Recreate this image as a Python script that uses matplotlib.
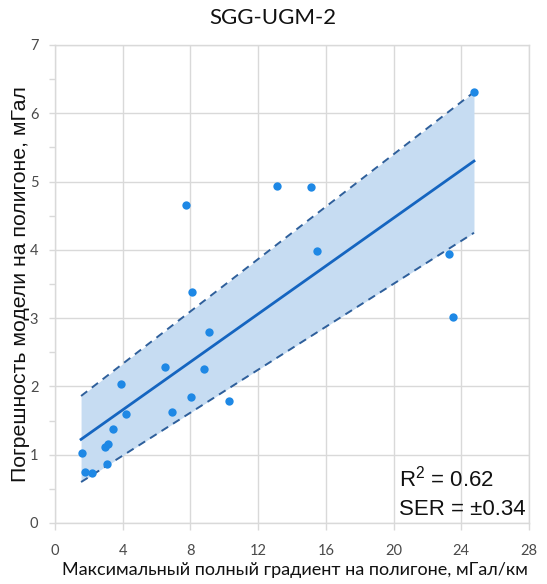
import matplotlib
matplotlib.use("Agg")
import matplotlib.pyplot as plt
import numpy as np

# Data
grad_x = [1.58, 1.77, 2.17, 3.05, 2.96, 3.15, 3.45, 3.88, 4.20, 6.50, 6.90,
          8.12, 8.06, 8.79, 9.12, 10.28, 7.74, 13.12, 15.13, 15.47, 24.75,
          23.30, 23.54]
err_y = [1.02, 0.74, 0.73, 0.86, 1.11, 1.16, 1.38, 2.04, 1.60, 2.28, 1.63,
         3.38, 1.85, 2.25, 2.79, 1.79, 4.66, 4.93, 4.92, 3.98, 6.31,
         3.94, 3.01]

fit_x = [1.54, 24.75]
fit_y = [1.225, 5.30]
band_upper = [1.86, 6.31]
band_lower = [0.60, 4.25]

x_ticks = [0, 4, 8, 12, 16, 20, 24, 28]
y_ticks = [0, 1, 2, 3, 4, 5, 6, 7]

title = "SGG-UGM-2"
x_label = "Максимальный полный градиент на полигоне, мГал/км"
y_label = "Погрешность модели на полигоне, мГал"
stats_lines = ["R$^2$ = 0.62", "SER = ±0.34"]

font = ["Lato", "DejaVu Sans"]
arial = ["Liberation Sans", "DejaVu Sans"]
plt.rcParams["mathtext.fontset"] = "custom"
plt.rcParams["mathtext.rm"] = "Liberation Sans"

fig = plt.figure(figsize=(5.47, 5.84), dpi=100)
ax = fig.add_axes([55/547, 1-523/584, 474/547, 478/584])

ax.fill_between(fit_x, band_lower, band_upper, color="#c6dcf2", lw=0, zorder=1)
ax.plot(fit_x, band_upper, ls=(0, (4, 3)), color="#2e5f9b", lw=1.4, zorder=2)
ax.plot(fit_x, band_lower, ls=(0, (4, 3)), color="#2e5f9b", lw=1.4, zorder=2)
ax.plot(fit_x, fit_y, color="#1565c0", lw=2.0, zorder=3)
ax.scatter(grad_x, err_y, s=36, color="#1e88e5", zorder=4, linewidths=0)

ax.set_xlim(0, 28)
ax.set_ylim(0, 7)
ax.set_xticks(x_ticks)
ax.set_yticks(y_ticks)
ax.set_yticks(np.arange(0.5, 7, 1.0), minor=True)
ax.grid(True, which="major", color="#d9d9d9", lw=1.0, zorder=0)
ax.set_axisbelow(True)
for s in ax.spines.values():
    s.set_color("#d9d9d9")
    s.set_linewidth(1.0)
ax.tick_params(which="both", color="#d9d9d9", length=4, width=1.0,
               labelsize=10.5, labelcolor="#4a4a4a")
ax.tick_params(axis="y", pad=8)
ax.tick_params(axis="x", length=5, pad=10)
for lab in ax.get_xticklabels() + ax.get_yticklabels():
    lab.set_family(font)

fig.text(295/547, 1 - 570/584, x_label, ha="center", va="center",
         fontsize=13, family=font, color="#111111")
fig.text(21/547, 1 - 284/584, y_label, ha="center", va="center", rotation=90,
         fontsize=15.3, family=arial, color="#111111")
fig.text(272.5/547, 1 - 18/584, title, ha="center", va="center",
         fontsize=16, family=font, color="#111111")
for line, base in zip(stats_lines, [487, 515]):
    fig.text(399/547, 1 - base/584, line, ha="left", va="baseline",
             fontsize=16, family=arial, color="#111111")

fig.savefig("out.png", dpi=100)
